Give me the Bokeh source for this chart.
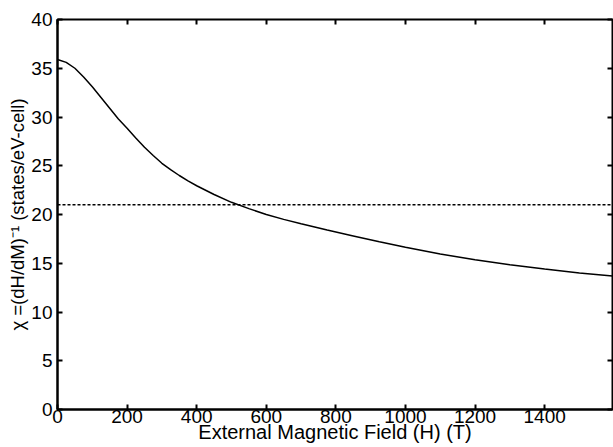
from bokeh.plotting import figure
from bokeh.models import LinearAxis, FixedTicker, Range1d, Span
from bokeh.embed import file_html
from bokeh.resources import INLINE

# data
field_T = [0, 25, 50, 75, 100, 125, 150, 175, 200, 225, 250, 275, 300, 325, 350,
           375, 400, 450, 500, 550, 600, 650, 700, 775, 850, 925, 1000, 1100,
           1200, 1300, 1400, 1500, 1595]
chi = [35.9, 35.6, 35.0, 34.1, 33.1, 32.0, 30.9, 29.8, 28.85, 27.85, 26.9, 26.05,
       25.25, 24.6, 24.0, 23.45, 22.95, 22.05, 21.25, 20.6, 20.0, 19.5, 19.05,
       18.4, 17.8, 17.2, 16.65, 15.95, 15.35, 14.85, 14.4, 14.0, 13.7]
chi_ref = 21.0
x_ticks = [0, 200, 400, 600, 800, 1000, 1200, 1400]
y_ticks = [0, 5, 10, 15, 20, 25, 30, 35, 40]

FONT = "Liberation Sans"

p = figure(width=613, height=447, output_backend="svg", toolbar_location=None,
           x_range=Range1d(0, 1595), y_range=Range1d(0, 40),
           min_border_left=57, min_border_right=1, min_border_top=19, min_border_bottom=38)
p.grid.visible = False
p.background_fill_color = "white"
p.border_fill_color = "white"
p.outline_line_color = "black"
p.outline_line_width = 2

for ax, ticks in ((p.xaxis[0], x_ticks), (p.yaxis[0], y_ticks)):
    ax.ticker = FixedTicker(ticks=ticks)
    ax.axis_line_width = 2
    ax.axis_line_color = "black"
    ax.major_tick_in = 5
    ax.major_tick_out = 0
    ax.major_tick_line_width = 2
    ax.minor_tick_line_color = None
    ax.major_label_text_font = FONT
    ax.major_label_text_font_size = "19px"
    ax.major_label_text_color = "black"
    ax.axis_label_text_font = FONT
    ax.axis_label_text_font_style = "normal"
    ax.axis_label_text_color = "black"

p.xaxis.axis_label = "External Magnetic Field (H) (T)"
p.xaxis.axis_label_text_font_size = "20px"
p.xaxis.major_label_standoff = 0
p.xaxis.axis_label_standoff = -5
p.yaxis.axis_label = "\u03c7 =(dH/dM)\u207b\u00b9 (states/eV-cell)"
p.yaxis.axis_label_text_font_size = "18.5px"
p.yaxis.major_label_standoff = 5
p.yaxis.axis_label_standoff = 0

for loc, ticks in (("above", x_ticks), ("right", y_ticks)):
    ax = LinearAxis(ticker=FixedTicker(ticks=ticks))
    ax.axis_line_color = None
    ax.major_tick_in = 5
    ax.major_tick_out = 0
    ax.major_tick_line_width = 2
    ax.minor_tick_line_color = None
    ax.major_label_text_font_size = "1px"
    ax.major_label_text_color = None
    ax.major_label_standoff = 0
    p.add_layout(ax, loc)

p.line(field_T, chi, line_color="black", line_width=1.5)
p.add_layout(Span(location=chi_ref, dimension="width", line_color="black",
                  line_width=1.3, line_dash="3 2"))

open("out.html", "w").write(file_html(p, INLINE))
